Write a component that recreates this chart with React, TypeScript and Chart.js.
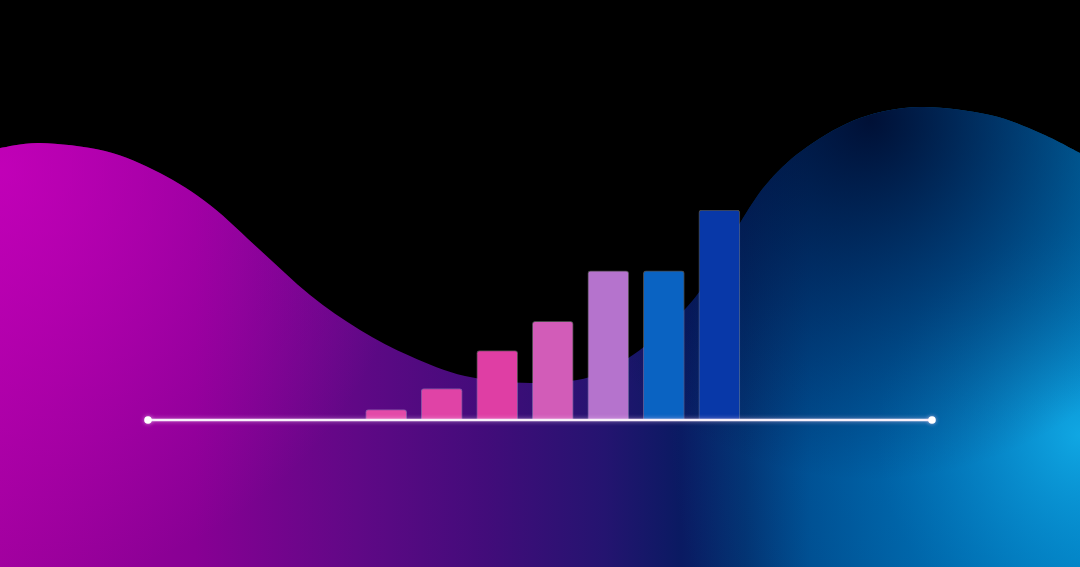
import React, { useEffect, useRef } from 'react';
import { Chart, registerables } from 'chart.js';

Chart.register(...registerables);

// seven steps of growth, the last one is the reference (100)
const steps = ['1', '2', '3', '4', '5', '6', '7'];
const stepValues = [5, 15, 33, 47, 71, 71, 100];
const barColors = ['#e34aa8', '#e043a6', '#df3ea4', '#d25cb8', '#b573cd', '#0a63c2', '#0838a8'];
// the white baseline runs a bit wider than the bars on both sides
const baselineRange = [-4.29, 9.83];

// outline of the purple wave + blue blob behind the bars (in 1080x567 px)
const waveOutline: [number, number][] = [
  [0, 148], [40, 143], [105, 151], [160, 173], [210, 205], [260, 250], [310, 295],
  [360, 330], [410, 356], [465, 376], [530, 383], [590, 377], [640, 350], [687, 307],
  [715, 268], [743, 218], [770, 180], [807, 147], [860, 118], [920, 107],
  [990, 115], [1040, 133], [1080, 153],
];

const backdrop = {
  id: 'backdrop',
  beforeDraw(chart: Chart) {
    const { ctx, width: w, height: h } = chart;
    const sx = w / 1080;
    const sy = h / 567;
    ctx.save();
    ctx.fillStyle = '#000';
    ctx.fillRect(0, 0, w, h);

    // smooth curve through the outline points (catmull-rom)
    const p = waveOutline.map(([x, y]) => [x * sx, y * sy]);
    ctx.beginPath();
    ctx.moveTo(p[0][0], p[0][1]);
    for (let i = 0; i < p.length - 1; i++) {
      const p0 = p[i - 1] || p[i];
      const p1 = p[i];
      const p2 = p[i + 1];
      const p3 = p[i + 2] || p2;
      ctx.bezierCurveTo(
        p1[0] + (p2[0] - p0[0]) / 6, p1[1] + (p2[1] - p0[1]) / 6,
        p2[0] - (p3[0] - p1[0]) / 6, p2[1] - (p3[1] - p1[1]) / 6,
        p2[0], p2[1]
      );
    }
    ctx.lineTo(w, h);
    ctx.lineTo(0, h);
    ctx.closePath();
    ctx.clip();

    const lin = ctx.createLinearGradient(0, 0, w, 0);
    lin.addColorStop(0, '#a0009e');
    lin.addColorStop(0.18, '#880094');
    lin.addColorStop(0.33, '#600886');
    lin.addColorStop(0.45, '#420c7a');
    lin.addColorStop(0.56, '#241470');
    lin.addColorStop(0.63, '#0a1a62');
    lin.addColorStop(0.69, '#03306e');
    lin.addColorStop(0.75, '#004c8c');
    lin.addColorStop(0.87, '#0068a6');
    lin.addColorStop(1, '#0086c2');
    ctx.fillStyle = lin;
    ctx.fillRect(0, 0, w, h);

    // magenta glow top-left
    const g1 = ctx.createRadialGradient(0, 170 * sy, 0, 0, 170 * sy, 420 * sx);
    g1.addColorStop(0, 'rgba(215,0,200,0.6)');
    g1.addColorStop(1, 'rgba(215,0,200,0)');
    ctx.fillStyle = g1;
    ctx.fillRect(0, 0, w, h);

    // cyan glow right
    const g2 = ctx.createRadialGradient(1080 * sx, 435 * sy, 0, 1080 * sx, 435 * sy, 410 * sx);
    g2.addColorStop(0, 'rgba(20,175,235,0.8)');
    g2.addColorStop(0.5, 'rgba(0,110,190,0.3)');
    g2.addColorStop(1, 'rgba(0,90,170,0)');
    ctx.fillStyle = g2;
    ctx.fillRect(0, 0, w, h);

    // dark top of the blob
    const g3 = ctx.createRadialGradient(870 * sx, 120 * sy, 0, 870 * sx, 120 * sy, 360 * sx);
    g3.addColorStop(0, 'rgba(0,6,40,0.88)');
    g3.addColorStop(0.45, 'rgba(0,10,55,0.5)');
    g3.addColorStop(1, 'rgba(0,10,60,0)');
    ctx.fillStyle = g3;
    ctx.fillRect(0, 0, w, h);

    ctx.restore();
  },
};

// soft glow on the baseline
const lineGlow = {
  id: 'lineGlow',
  beforeDatasetDraw(chart: Chart, args: any) {
    if (args.index !== 0) return;
    chart.ctx.save();
    chart.ctx.shadowColor = 'rgba(255,210,255,0.6)';
    chart.ctx.shadowBlur = 4;
  },
  afterDatasetDraw(chart: Chart, args: any) {
    if (args.index !== 0) return;
    chart.ctx.restore();
  },
};

const App: React.FC = () => {
  const chartRef = useRef<HTMLCanvasElement>(null);

  useEffect(() => {
    if (!chartRef.current) return;

    const chart = new Chart(chartRef.current, {
      type: 'bar',
      data: {
        labels: steps,
        datasets: [
          {
            type: 'line',
            label: 'baseline',
            data: baselineRange.map((x) => ({ x, y: 0 })),
            borderColor: '#f8f0fa',
            borderWidth: 2.5,
            pointRadius: 3.8,
            pointBackgroundColor: '#ffffff',
            pointBorderWidth: 0,
            clip: false,
            order: 0,
          } as any,
          {
            type: 'bar',
            label: 'growth',
            data: stepValues.map((v, i) => ({ x: i, y: v })),
            backgroundColor: barColors,
            borderColor: 'rgba(255,255,255,0.28)',
            borderWidth: 1,
            borderSkipped: 'bottom',
            borderRadius: 3,
            barThickness: 41,
            order: 1,
          },
        ],
      },
      options: {
        animation: false,
        responsive: true,
        maintainAspectRatio: false,
        layout: { padding: { left: 148, right: 148, top: 210, bottom: 147 } },
        plugins: {
          legend: { display: false },
          tooltip: { enabled: false },
        },
        scales: {
          x: { type: 'linear', offset: false, min: baselineRange[0], max: baselineRange[1], display: false },
          y: { min: 0, max: 100, display: false },
        },
      },
      plugins: [backdrop, lineGlow],
    });

    return () => chart.destroy();
  }, []);

  return (
    <div style={{ position: 'fixed', left: 0, top: 0, width: 1080, height: 567, background: '#000' }}>
      <canvas ref={chartRef}></canvas>
    </div>
  );
};

export default App;
